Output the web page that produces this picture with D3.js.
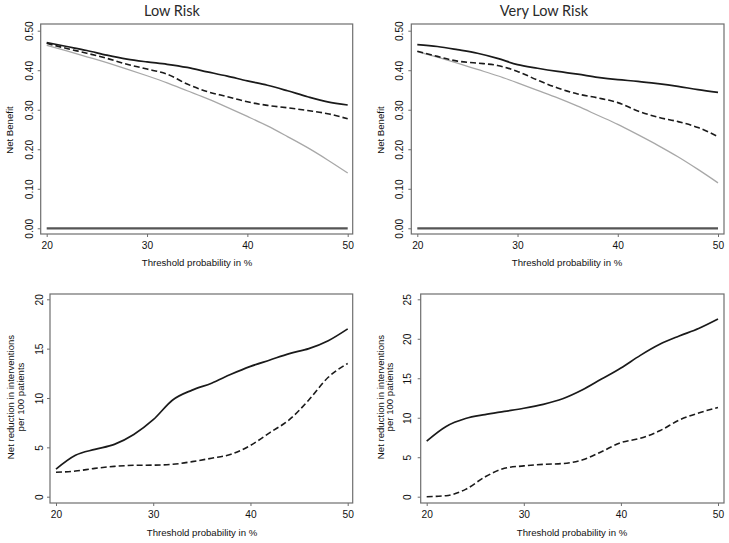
<!DOCTYPE html>
<html><head><meta charset="utf-8">
<script src="https://cdn.jsdelivr.net/npm/d3@7"></script>
<style>body{margin:0;background:#fff}svg{display:block}</style>
</head><body>
<svg id="c" width="729" height="543"></svg>
<script>
const thresholds = [20,22,24,26,28,30,32,34,36,38,40,42,44,46,48,50];
const xTicks = [20,30,40,50];
const nbTicks = [0,0.1,0.2,0.3,0.4,0.5];
const lowSolid  = [0.470,0.460,0.450,0.438,0.428,0.421,0.415,0.407,0.396,0.385,0.373,0.362,0.348,0.333,0.320,0.312];
const lowDashed = [0.468,0.455,0.443,0.430,0.415,0.403,0.390,0.365,0.346,0.333,0.320,0.311,0.305,0.298,0.290,0.277];
const lowAll    = [0.463,0.449,0.434,0.419,0.403,0.386,0.368,0.348,0.328,0.306,0.283,0.259,0.232,0.204,0.173,0.140];
const vlSolid   = [0.465,0.460,0.452,0.443,0.430,0.414,0.405,0.397,0.390,0.382,0.376,0.372,0.366,0.359,0.351,0.344];
const vlDashed  = [0.448,0.435,0.423,0.418,0.412,0.397,0.375,0.355,0.340,0.330,0.318,0.297,0.281,0.270,0.255,0.232];
const vlAll     = [0.447,0.433,0.418,0.402,0.386,0.368,0.349,0.330,0.309,0.286,0.263,0.237,0.210,0.181,0.149,0.115];
const none      = [0,0,0,0,0,0,0,0,0,0,0,0,0,0,0,0];
const redLowSolid  = [2.8,4.2,4.8,5.3,6.3,7.8,9.8,10.8,11.5,12.4,13.2,13.85,14.5,15.0,15.8,17.0];
const redLowDashed = [2.47,2.6,2.87,3.07,3.18,3.2,3.28,3.55,3.9,4.3,5.2,6.5,7.8,9.8,12.1,13.5];
const redVlSolid   = [7.05,8.9,9.9,10.4,10.8,11.2,11.7,12.4,13.5,14.9,16.3,17.9,19.3,20.35,21.3,22.5];
const redVlDashed  = [0.0,0.13,0.93,2.5,3.6,3.9,4.1,4.2,4.65,5.7,6.85,7.4,8.35,9.7,10.6,11.3];
const lowTicks = [0,5,10,15,20];
const vlTicks = [0,5,10,15,20,25];
const titles = ["Low Risk","Very Low Risk"];
const xLabel = "Threshold probability in %";
const nbLabel = "Net Benefit";
const redLabel = ["Net reduction in interventions","per 100 patients"];

const svg = d3.select("#c");
const FONT = "Liberation Sans, Arial, Helvetica, sans-serif";
const FS = 9.6;

function panel(o){
  const g = svg.append("g");
  const x = d3.scaleLinear().domain([20,50]).range([o.x0,o.x1]);
  const y = d3.scaleLinear().domain([0,o.ymax]).range([o.y0,o.y1]);
  g.append("rect").attr("x",o.bl).attr("y",o.bt).attr("width",o.br-o.bl).attr("height",o.bb-o.bt)
    .attr("fill","none").attr("stroke","#6e6e6e").attr("stroke-width",1.2);
  const xa = g.append("g").attr("transform",`translate(0,${o.bb})`)
    .call(d3.axisBottom(x).tickValues(xTicks).tickSize(3).tickPadding(5).tickSizeOuter(0));
  xa.attr("font-family",FONT).attr("font-size",FS+0.6);
  xa.select(".domain").remove();
  xa.selectAll("line").attr("stroke","#6e6e6e");
  xa.selectAll("text").attr("fill","#111");
  const ya = g.append("g").attr("transform",`translate(${o.bl},0)`)
    .call(d3.axisLeft(y).tickValues(o.yt).tickSize(3).tickSizeOuter(0).tickFormat(o.fmt));
  ya.attr("font-family",FONT).attr("font-size",FS+0.6);
  ya.select(".domain").remove();
  ya.selectAll("line").attr("stroke","#6e6e6e");
  ya.selectAll("text").attr("fill","#111")
    .attr("text-anchor","middle").attr("x",null).attr("dy",null).attr("y",0)
    .attr("transform",`translate(${o.tlx-o.bl},0) rotate(-90)`)
    .attr("dominant-baseline","central");
  const line = d3.line().x((d,i)=>x(thresholds[i])).y(d=>y(d)).curve(d3.curveMonotoneX);
  o.series.forEach(s=>{
    g.append("path").datum(s.v).attr("d",line).attr("fill","none")
      .attr("stroke",s.c).attr("stroke-width",s.w).attr("stroke-dasharray",s.dash||null);
  });
  g.append("text").attr("x",o.xlx).attr("y",o.xly).attr("text-anchor","middle")
    .attr("font-family",FONT).attr("font-size",FS).attr("fill","#111").text(xLabel);
  o.ylab.forEach((t,i)=>{
    g.append("text").attr("transform",`translate(${o.ylx[i]},${o.yly}) rotate(-90)`)
      .attr("text-anchor","middle").attr("dominant-baseline","central")
      .attr("font-family",FONT).attr("font-size",FS).attr("fill","#111").text(t);
  });
  if(o.title){
    g.append("text").attr("x",o.tx).attr("y",15.5).attr("text-anchor","middle")
      .attr("font-family","Lato, 'Open Sans', sans-serif").attr("font-weight",400)
      .attr("font-size",14.5).attr("fill","#2a2a2a").text(o.title);
  }
}
const f2 = d3.format(".2f");
const f0 = d3.format("d");
const DASH = "6,3";
panel({bl:40.7,br:352.7,bt:24,bb:234,x0:46.7,x1:347.7,y0:228.3,y1:30.7,ymax:0.5,yt:nbTicks,fmt:f2,tlx:29,
  xlx:197,xly:266,ylab:[nbLabel],ylx:[9],yly:130,title:titles[0],tx:172,
  series:[{v:none,c:"#555",w:2.2},{v:lowAll,c:"#a8a8a8",w:1.3},{v:lowDashed,c:"#1a1a1a",w:1.6,dash:DASH},{v:lowSolid,c:"#1a1a1a",w:1.7}]});
panel({bl:411.3,br:724,bt:24,bb:234,x0:417.3,x1:718,y0:228.3,y1:30.7,ymax:0.5,yt:nbTicks,fmt:f2,tlx:399,
  xlx:567,xly:266,ylab:[nbLabel],ylx:[380],yly:130,title:titles[1],tx:544,
  series:[{v:none,c:"#555",w:2.2},{v:vlAll,c:"#a8a8a8",w:1.3},{v:vlDashed,c:"#1a1a1a",w:1.6,dash:DASH},{v:vlSolid,c:"#1a1a1a",w:1.7}]});
panel({bl:50,br:352.7,bt:294,bb:503,x0:56,x1:347.7,y0:496.7,y1:299.3,ymax:20,yt:lowTicks,fmt:f0,tlx:39,
  xlx:202,xly:536,ylab:redLabel,ylx:[10,20],yly:397,
  series:[{v:redLowDashed,c:"#1a1a1a",w:1.6,dash:DASH},{v:redLowSolid,c:"#1a1a1a",w:1.7}]});
panel({bl:420.7,br:724,bt:294,bb:503,x0:426.7,x1:718,y0:496.7,y1:299.3,ymax:25,yt:vlTicks,fmt:f0,tlx:407,
  xlx:572,xly:536,ylab:redLabel,ylx:[380,389.5],yly:397,
  series:[{v:redVlDashed,c:"#1a1a1a",w:1.6,dash:DASH},{v:redVlSolid,c:"#1a1a1a",w:1.7}]});
</script>
</body></html>
